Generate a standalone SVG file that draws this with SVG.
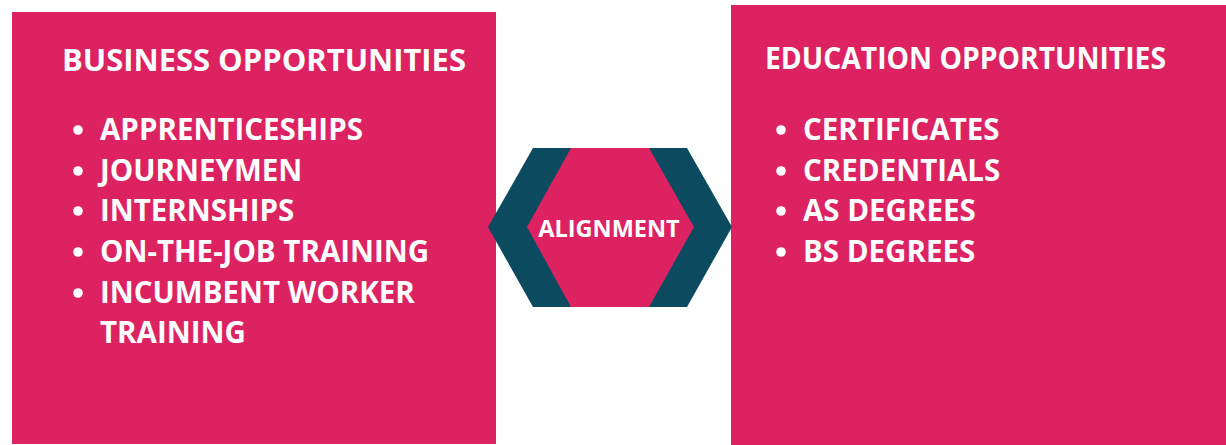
<svg xmlns="http://www.w3.org/2000/svg" width="1226" height="445" viewBox="0 0 1226 445">
<style>
.box{fill:#DD2262}
.title{font-family:"Open Sans","Liberation Sans",sans-serif;font-weight:bold;font-size:30px;fill:#fff}
.item{font-family:"Open Sans","Liberation Sans",sans-serif;font-weight:bold;font-size:29.5px;fill:#fff}
.bul{fill:#fff}
.hexlbl{font-family:"Open Sans","Liberation Sans",sans-serif;font-weight:bold;font-size:23.5px;fill:#fff}
</style>
<rect width="1226" height="445" fill="#fff"/>
<g id="business">
<rect class="box" x="12" y="12" width="484" height="432"/>
<text class="title" x="62" y="71" textLength="404" lengthAdjust="spacingAndGlyphs">BUSINESS OPPORTUNITIES</text>
<circle class="bul" cx="78" cy="130" r="4.8"/>
<text class="item" x="100" y="140">APPRENTICESHIPS</text>
<circle class="bul" cx="78" cy="171" r="4.8"/>
<text class="item" x="100" y="181">JOURNEYMEN</text>
<circle class="bul" cx="78" cy="211" r="4.8"/>
<text class="item" x="100" y="221">INTERNSHIPS</text>
<circle class="bul" cx="78" cy="252" r="4.8"/>
<text class="item" x="100" y="262">ON-THE-JOB TRAINING</text>
<circle class="bul" cx="78" cy="293" r="4.8"/>
<text class="item" x="100" y="303">INCUMBENT WORKER</text>
<text class="item" x="100" y="343">TRAINING</text>
</g>
<g id="education">
<rect class="box" x="731" y="5" width="495" height="440"/>
<text class="title" x="765" y="69" textLength="401" lengthAdjust="spacingAndGlyphs">EDUCATION OPPORTUNITIES</text>
<circle class="bul" cx="781" cy="130" r="4.8"/>
<text class="item" x="803" y="140">CERTIFICATES</text>
<circle class="bul" cx="781" cy="171" r="4.8"/>
<text class="item" x="803" y="181">CREDENTIALS</text>
<circle class="bul" cx="781" cy="211" r="4.8"/>
<text class="item" x="803" y="221">AS DEGREES</text>
<circle class="bul" cx="781" cy="252" r="4.8"/>
<text class="item" x="803" y="262">BS DEGREES</text>
</g>
<g id="alignment">
<polygon fill="#0B4A5F" points="488,227 533,148 687,148 732,227 687,307 533,307"/>
<polygon fill="#DD2262" points="527,227 571,148 649,148 694,227 649,307 571,307"/>
<text class="hexlbl" x="609" y="237" text-anchor="middle">ALIGNMENT</text>
</g>
<g id="connectors"></g>
</svg>
